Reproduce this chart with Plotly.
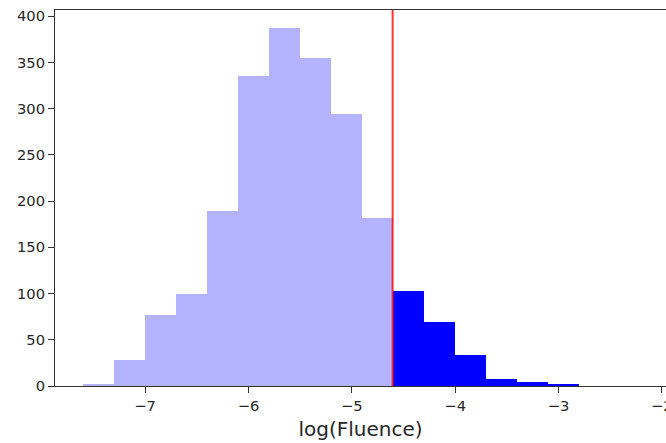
import numpy as np
import plotly.graph_objects as go

# Data
threshold = -4.605
bin_width = 0.3
below_edges_start = -7.605
below_counts = [2, 28, 77, 99, 189, 335, 387, 355, 294, 182]
above_edges_start = -4.605
above_counts = [103, 69, 34, 8, 4, 2]
y_ticks = [0, 50, 100, 150, 200, 250, 300, 350, 400]
x_ticks = [-7, -6, -5, -4, -3, -2]

below_centers = below_edges_start + bin_width * (np.arange(len(below_counts)) + 0.5)
above_centers = above_edges_start + bin_width * (np.arange(len(above_counts)) + 0.5)

fig = go.Figure()
fig.add_trace(go.Bar(x=below_centers, y=below_counts, width=bin_width,
                     marker=dict(color="rgb(179,179,255)", line=dict(width=0)),
                     showlegend=False, hoverinfo="skip"))
fig.add_trace(go.Bar(x=above_centers, y=above_counts, width=bin_width,
                     marker=dict(color="rgb(0,0,255)", line=dict(width=0)),
                     showlegend=False, hoverinfo="skip"))
fig.add_shape(type="line", x0=threshold, x1=threshold, xref="x", y0=0, y1=1, yref="paper",
              line=dict(color="rgba(255,0,0,0.8)", width=2))

font = dict(family="DejaVu Sans", size=14.7, color="#262626")
fig.update_layout(
    width=666, height=443,
    margin=dict(l=55, r=0, t=10, b=57),
    plot_bgcolor="white", paper_bgcolor="white",
    bargap=0, barmode="overlay",
    font=font,
    xaxis=dict(range=[-7.872, -1.96], tickvals=x_ticks,
               ticktext=["\u2212" + str(abs(v)) for v in x_ticks],
               ticklabeloverflow="allow", automargin=False,
               showgrid=False, zeroline=False, showline=True, linecolor="#333", linewidth=1,
               mirror=True, ticks="outside", ticklen=6, tickcolor="#333",
               title=dict(text="log(Fluence)", font=dict(size=20, family="DejaVu Sans", color="#262626"), standoff=9)),
    yaxis=dict(range=[0, 406.7], tickvals=y_ticks, showgrid=False, zeroline=False,
               automargin=False,
               showline=True, linecolor="#333", linewidth=1, mirror=False,
               ticks="outside", ticklen=6, tickcolor="#333"),
)
fig.write_html("out.html")
